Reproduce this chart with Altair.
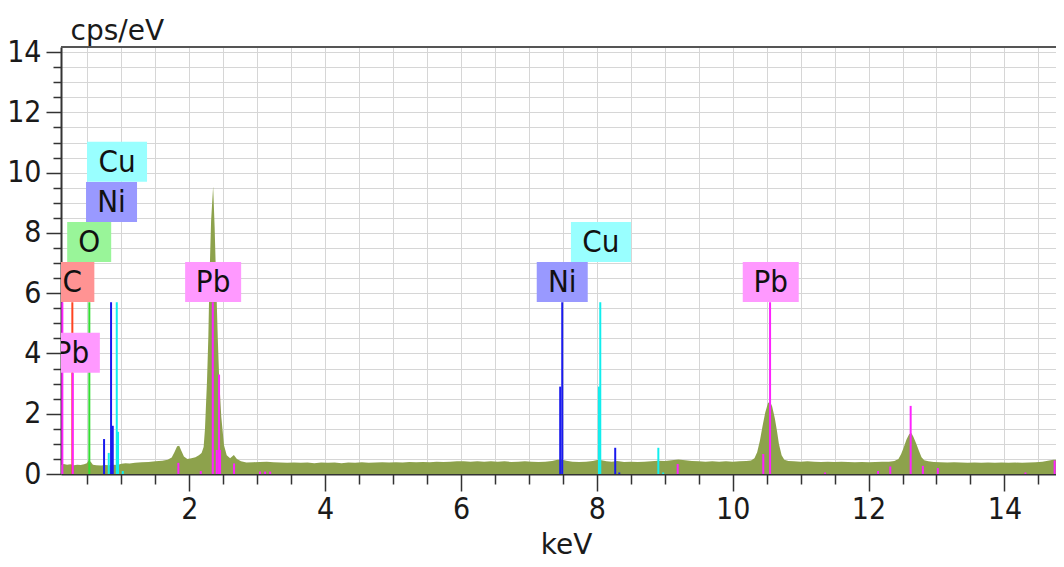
import altair as alt
import pandas as pd

# ---------------- data ----------------
spec_kev = [0.11, 0.15, 0.20, 0.25, 0.30, 0.35, 0.40, 0.45, 0.49, 0.52, 0.55, 0.58, 0.63, 0.70, 0.76,
            0.82, 0.88, 0.94, 1.00, 1.06, 1.12, 1.20, 1.30, 1.40, 1.50, 1.60, 1.68, 1.74, 1.78, 1.82,
            1.85, 1.88, 1.92, 1.97, 2.03, 2.09, 2.14, 2.18, 2.21, 2.23, 2.26, 2.28, 2.295, 2.32, 2.35,
            2.372, 2.394, 2.42, 2.44, 2.47, 2.51, 2.55, 2.60, 2.655, 2.70, 2.76, 2.84, 2.94, 3.04, 3.14,
            3.24, 3.34, 3.44, 3.54, 3.64, 3.74, 3.84, 3.94, 4.04, 4.14, 4.24, 4.34, 4.44, 4.54, 4.64,
            4.74, 4.84, 4.94, 5.04, 5.14, 5.24, 5.34, 5.44, 5.54, 5.64, 5.74, 5.84, 5.94, 6.04, 6.14,
            6.24, 6.34, 6.44, 6.54, 6.64, 6.74, 6.84, 6.94, 7.04, 7.14, 7.24, 7.34, 7.42, 7.48, 7.55,
            7.64, 7.74, 7.84, 7.94, 8.02, 8.07, 8.14, 8.22, 8.30, 8.40, 8.50, 8.60, 8.70, 8.80, 8.90,
            9.00, 9.10, 9.20, 9.30, 9.40, 9.50, 9.60, 9.70, 9.80, 9.90, 10.00, 10.10, 10.20, 10.27, 10.32,
            10.36, 10.40, 10.44, 10.48, 10.52, 10.55, 10.58, 10.62, 10.65, 10.68, 10.72, 10.76, 10.82, 10.90, 11.00,
            11.10, 11.20, 11.30, 11.40, 11.50, 11.60, 11.70, 11.80, 11.90, 12.00, 12.10, 12.20, 12.30, 12.38, 12.44,
            12.48, 12.52, 12.56, 12.60, 12.63, 12.66, 12.70, 12.74, 12.78, 12.82, 12.88, 12.96, 13.06, 13.16, 13.26,
            13.36, 13.46, 13.56, 13.66, 13.76, 13.86, 13.96, 14.06, 14.16, 14.26, 14.36, 14.46, 14.56, 14.64, 14.72,
            14.78, 14.84, 14.88]
spec_cps = [0.30, 0.33, 0.31, 0.32, 0.29, 0.31, 0.30, 0.32, 0.36, 0.46, 0.40, 0.31, 0.29, 0.28, 0.30,
            0.29, 0.31, 0.30, 0.34, 0.36, 0.35, 0.37, 0.39, 0.40, 0.42, 0.44, 0.47, 0.55, 0.72, 0.92,
            0.94, 0.78, 0.58, 0.50, 0.52, 0.56, 0.62, 0.70, 0.90, 1.50, 3.10, 4.60, 6.40, 8.40, 9.55,
            8.20, 6.40, 4.40, 3.10, 1.90, 0.95, 0.62, 0.52, 0.63, 0.50, 0.42, 0.38, 0.39, 0.40, 0.41,
            0.39, 0.38, 0.37, 0.38, 0.37, 0.38, 0.36, 0.38, 0.37, 0.38, 0.36, 0.38, 0.37, 0.39, 0.37,
            0.38, 0.39, 0.38, 0.39, 0.38, 0.40, 0.39, 0.40, 0.39, 0.41, 0.40, 0.41, 0.42, 0.42, 0.41,
            0.42, 0.41, 0.42, 0.41, 0.42, 0.40, 0.41, 0.42, 0.41, 0.40, 0.41, 0.43, 0.47, 0.48, 0.44,
            0.41, 0.40, 0.41, 0.43, 0.47, 0.46, 0.42, 0.41, 0.43, 0.40, 0.41, 0.40, 0.41, 0.42, 0.44,
            0.43, 0.46, 0.48, 0.46, 0.43, 0.42, 0.41, 0.42, 0.41, 0.42, 0.41, 0.42, 0.43, 0.45, 0.52,
            0.72, 1.10, 1.60, 2.05, 2.36, 2.40, 2.25, 1.85, 1.45, 1.00, 0.62, 0.47, 0.43, 0.42, 0.41,
            0.42, 0.41, 0.40, 0.41, 0.40, 0.41, 0.40, 0.39, 0.40, 0.39, 0.40, 0.41, 0.41, 0.43, 0.50,
            0.66, 0.90, 1.15, 1.33, 1.36, 1.24, 1.02, 0.78, 0.56, 0.46, 0.42, 0.40, 0.39, 0.38, 0.39,
            0.38, 0.37, 0.38, 0.37, 0.38, 0.37, 0.38, 0.37, 0.38, 0.37, 0.38, 0.39, 0.41, 0.44, 0.47,
            0.48, 0.46, 0.45]

# element marker lines (KLM markers)
line_el = ["C", "O",
           "Ni", "Ni", "Ni", "Ni", "Ni", "Ni", "Ni",
           "Cu", "Cu", "Cu", "Cu", "Cu", "Cu", "Cu", "Cu",
           "Pb", "Pb", "Pb", "Pb", "Pb", "Pb", "Pb", "Pb", "Pb", "Pb", "Pb", "Pb",
           "Pb", "Pb", "Pb", "Pb", "Pb", "Pb", "Pb", "Pb", "Pb", "Pb", "Pb"]
line_kev = [0.277, 0.527,
            0.744, 0.847, 0.872, 7.46, 7.49, 8.27, 8.33,
            0.813, 0.931, 0.950, 1.02, 8.03, 8.05, 8.905, 8.976,
            0.13, 0.283, 1.838, 2.168, 2.345, 2.404, 2.437, 2.452, 2.658, 3.04, 3.115, 3.19,
            9.19, 10.45, 10.55, 11.36, 12.14, 12.32, 12.62, 12.80, 13.02, 14.31, 14.74]
line_top = [5.7, 5.7,
            1.16, 5.7, 1.6, 2.9, 5.7, 0.87, 0.05,
            0.7, 5.7, 1.4, 0.1, 2.9, 5.7, 0.87, 0.05,
            5.7, 3.35, 0.37, 0.1, 5.7, 0.8, 3.3, 0.8, 0.35, 0.08, 0.08, 0.08,
            0.33, 0.66, 5.7, 0.05, 0.1, 0.25, 2.26, 0.27, 0.2, 0.05, 0.45]

# element labels
lab_el = ["C", "O", "Ni", "Cu", "Pb", "Pb", "Ni", "Cu", "Pb"]
lab_kev = [0.277, 0.525, 0.854, 0.935, 0.27, 2.35, 7.49, 8.06, 10.56]
lab_y = [6.37, 7.70, 9.03, 10.36, 4.02, 6.37, 6.37, 7.70, 6.37]

x_tick_values = [0.5, 1.0, 1.5, 2.0, 2.5, 3.0, 3.5, 4.0, 4.5, 5.0, 5.5, 6.0, 6.5, 7.0, 7.5,
                 8.0, 8.5, 9.0, 9.5, 10.0, 10.5, 11.0, 11.5, 12.0, 12.5, 13.0, 13.5, 14.0, 14.5]
y_tick_values = [0.0, 0.5, 1.0, 1.5, 2.0, 2.5, 3.0, 3.5, 4.0, 4.5, 5.0, 5.5, 6.0, 6.5, 7.0,
                 7.5, 8.0, 8.5, 9.0, 9.5, 10.0, 10.5, 11.0, 11.5, 12.0, 12.5, 13.0, 13.5, 14.0]

# ---------------- styling ----------------
W, H = 995, 427
NARROW = "DejaVu Sans Condensed, DejaVu Sans, sans-serif"
WIDE = "DejaVu Sans, Verdana, sans-serif"
elements = ["C", "O", "Ni", "Cu", "Pb"]
line_colors = ["#ff4422", "#33dd33", "#1a1aee", "#11eeee", "#ff22ff"]
box_colors = ["#ff9393", "#99f599", "#9999ff", "#99ffff", "#ff99ff"]
box_w = {"C": 44, "O": 44, "Ni": 51, "Cu": 60, "Pb": 56}

xs = alt.Scale(domain=[0.11, 14.76], nice=False, zero=False)
ys = alt.Scale(domain=[0, 14.17], nice=False, zero=False)

xaxis = alt.Axis(
    values=x_tick_values, format="~g", grid=True, gridColor="#d6d6d6", gridWidth=1,
    domainColor="#333333", domainWidth=2, tickColor="#333333", tickWidth=1.5,
    tickSize={"condition": {"test": "datum.value % 2 === 0", "value": 17}, "value": 10},
    labelExpr="datum.value % 2 === 0 ? datum.label : ''",
    labelFont=NARROW, labelFontSize=30, labelColor="#1a1a1a", labelPadding=3,
    labelOverlap=False, labelFlush=False,
    title="keV", titleFont=WIDE, titleFontSize=28, titleFontWeight="normal",
    titleColor="#1a1a1a", titleX=505, titleY=79, titleAlign="center",
    titleBaseline="alphabetic",
)
yaxis = alt.Axis(
    values=y_tick_values, format="~g", grid=True, gridColor="#d6d6d6", gridWidth=1,
    domainColor="#333333", domainWidth=2, tickColor="#333333", tickWidth=1.5,
    tickSize={"condition": {"test": "datum.value % 2 === 0", "value": 15}, "value": 8},
    labelExpr="datum.value % 2 === 0 ? datum.label : ''",
    labelFont=NARROW, labelFontSize=30, labelColor="#1a1a1a", labelPadding=5,
    labelOverlap=False, labelFlush=False,
    title="cps/eV", titleFont=WIDE, titleFontSize=28, titleFontWeight="normal",
    titleColor="#1a1a1a", titleAngle=0, titleX=9, titleY=-8, titleAlign="left",
    titleBaseline="alphabetic",
)

X = alt.X("kev:Q", scale=xs, axis=xaxis)
Y = alt.Y("cps:Q", scale=ys, axis=yaxis)

spec_df = pd.DataFrame({"kev": spec_kev, "cps": spec_cps})
line_df = pd.DataFrame({"kev": line_kev, "cps": line_top, "el": line_el})
lab_df = pd.DataFrame({"kev": lab_kev, "cps": lab_y, "el": lab_el})

area = alt.Chart(spec_df).mark_area(color="#8da24c", clip=True, interpolate="linear").encode(
    x=X, y=Y,
)

rules = alt.Chart(line_df).mark_rule(strokeWidth=2, clip=True).encode(
    x=X, y=Y,
    y2=alt.datum(0),
    color=alt.Color("el:N", scale=alt.Scale(domain=elements, range=line_colors), legend=None),
)

box_layers = []
for w in sorted(set(box_w.values())):
    els = [e for e in elements if box_w[e] == w]
    box_layers.append(
        alt.Chart(lab_df).transform_filter(alt.FieldOneOfPredicate(field="el", oneOf=els))
        .mark_rect(width=w, height=40, clip=True).encode(
            x=X, y=Y,
            fill=alt.Fill("el:N", scale=alt.Scale(domain=elements, range=box_colors), legend=None),
        )
    )

texts = alt.Chart(lab_df).mark_text(
    font=NARROW, fontSize=31, color="#111111", align="center", baseline="middle", dy=1, clip=True
).encode(
    x=X, y=Y,
    text="el:N",
)

border = alt.Chart(pd.DataFrame({"a": [0]})).mark_rule(color="#555555", strokeWidth=2).encode(
    x=alt.value(0), x2=alt.value(W), y=alt.value(0)
)

chart = alt.layer(area, rules, *box_layers, texts, border).properties(
    width=W, height=H,
    padding={"left": 53, "top": 39, "right": 0, "bottom": 85},
    autosize=alt.AutoSizeParams(type="none"),
    background="white",
).configure_view(stroke=None)

chart.save("out.html", embed_options={"renderer": "svg", "actions": False})
